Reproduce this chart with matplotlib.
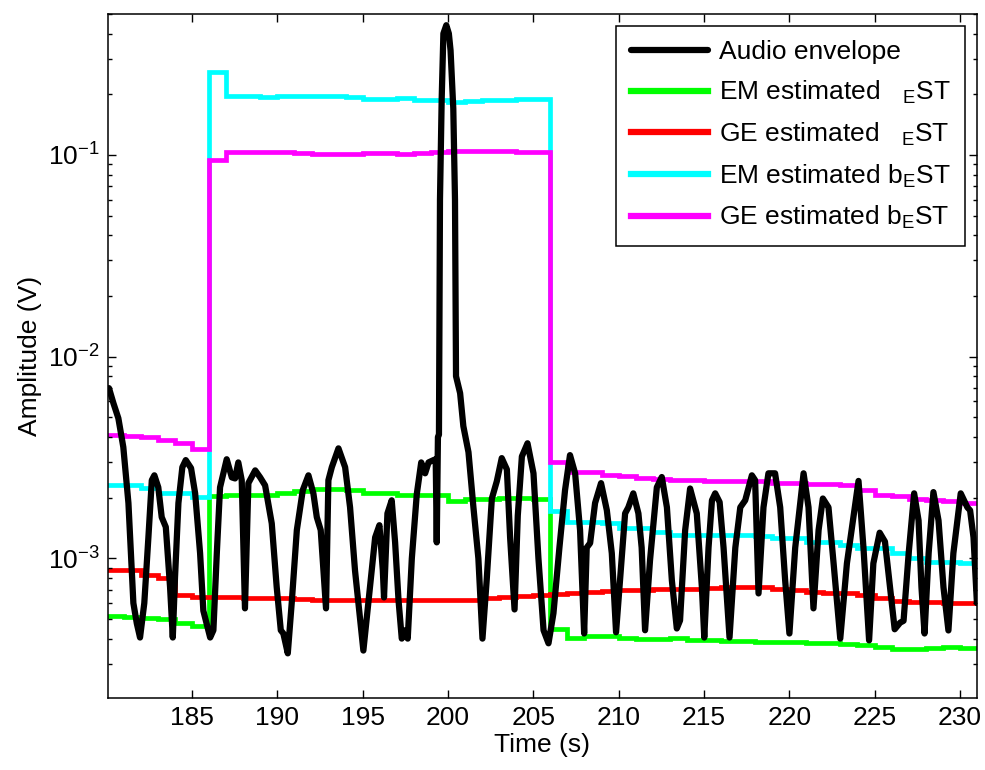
import matplotlib
matplotlib.use("Agg")
import matplotlib.pyplot as plt
import numpy as np

plt.rcParams['font.family'] = ['Liberation Sans', 'DejaVu Sans']
plt.rcParams['mathtext.fontset'] = 'custom'
plt.rcParams['mathtext.rm'] = 'Liberation Sans'
plt.rcParams['mathtext.it'] = 'Liberation Sans:italic'
plt.rcParams['mathtext.bf'] = 'Liberation Sans:bold'

# audio envelope (s, V)
env_t = [180.13, 180.39, 180.68, 180.97, 181.27, 181.56, 181.76, 181.95, 182.2, 182.44,
         182.64, 182.79, 183.02, 183.22, 183.46, 183.71, 183.87, 184.0, 184.2, 184.43,
         184.63, 184.94, 185.18, 185.47, 185.66, 186.06, 186.25, 186.45, 186.64, 187.03,
         187.33, 187.52, 187.71, 187.91, 188.1, 188.3, 188.7, 188.99, 189.28, 189.67,
         189.96, 190.2, 190.35, 190.61, 190.84, 191.14, 191.49, 191.82, 192.11, 192.31,
         192.54, 192.85, 192.99, 193.19, 193.58, 193.97, 194.26, 194.55, 195.04, 195.43,
         195.73, 195.98, 196.18, 196.25, 196.45, 196.7, 196.9, 197.1, 197.29, 197.49,
         197.64, 197.88, 198.17, 198.43, 198.66, 198.86, 199.15, 199.28, 199.34, 199.41,
         199.47, 199.53, 199.63, 199.73, 199.9, 200.05, 200.15, 200.31, 200.41, 200.47,
         200.71, 200.9, 201.2, 201.49, 201.78, 202.02, 202.27, 202.57, 202.86, 203.15,
         203.45, 203.64, 203.9, 204.09, 204.33, 204.66, 205.01, 205.3, 205.6, 205.89,
         206.18, 206.53, 206.86, 207.15, 207.45, 207.74, 207.98, 208.13, 208.33, 208.62,
         208.97, 209.31, 209.6, 209.85, 210.08, 210.38, 210.57, 210.86, 211.16, 211.35,
         211.55, 211.84, 212.24, 212.53, 212.83, 213.12, 213.41, 213.6, 213.9, 214.19,
         214.58, 214.88, 215.02, 215.27, 215.47, 215.66, 215.92, 216.15, 216.5, 216.84,
         217.13, 217.42, 217.81, 218.0, 218.2, 218.49, 218.78, 219.17, 219.47, 219.76,
         220.01, 220.35, 220.84, 221.13, 221.42, 221.72, 221.97, 222.3, 222.6, 222.99,
         223.38, 224.06, 224.35, 224.68, 224.93, 225.3, 225.61, 225.91, 226.18, 226.5,
         226.7, 227.0, 227.32, 227.58, 227.75, 227.93, 228.17, 228.45, 228.75, 229.04,
         229.33, 229.62, 230.05, 230.44, 230.6, 230.8, 231.0]
env_v = [6.98e-3, 5.88e-3, 4.95e-3, 3.56e-3, 1.88e-3, 0.60e-3, 0.476e-3, 0.405e-3, 0.60e-3, 1.27e-3,
         2.44e-3, 2.58e-3, 2.25e-3, 1.6e-3, 1.43e-3, 0.72e-3, 0.405e-3, 0.805e-3, 1.88e-3, 2.83e-3,
         3.07e-3, 2.80e-3, 2.10e-3, 1.06e-3, 0.55e-3, 0.405e-3, 0.44e-3, 1.06e-3, 2.25e-3, 3.10e-3,
         2.52e-3, 2.49e-3, 2.99e-3, 2.44e-3, 0.565e-3, 2.36e-3, 2.73e-3, 2.52e-3, 2.30e-3, 1.49e-3,
         0.72e-3, 0.44e-3, 0.424e-3, 0.338e-3, 0.60e-3, 1.38e-3, 2.18e-3, 2.58e-3, 2.10e-3, 1.6e-3,
         1.38e-3, 0.565e-3, 2.44e-3, 2.83e-3, 3.51e-3, 2.83e-3, 1.79e-3, 0.87e-3, 0.349e-3, 0.72e-3,
         1.27e-3, 1.46e-3, 0.87e-3, 0.64e-3, 1.67e-3, 1.94e-3, 1.2e-3, 0.62e-3, 0.40e-3, 0.44e-3,
         0.40e-3, 1.0e-3, 2.08e-3, 2.99e-3, 2.64e-3, 2.99e-3, 3.07e-3, 3.1e-3, 1.2e-3, 4.0e-3,
         4.1e-3, 0.06, 0.19, 0.40, 0.44, 0.40, 0.33, 0.17, 0.06, 8.0e-3,
         6.59e-3, 4.52e-3, 3.36e-3, 1.79e-3, 1.0e-3, 0.40e-3, 0.786e-3, 1.98e-3, 2.41e-3, 3.14e-3,
         2.76e-3, 1.27e-3, 0.558e-3, 1.63e-3, 3.2e-3, 3.72e-3, 2.64e-3, 1.0e-3, 0.44e-3, 0.379e-3,
         0.534e-3, 1.13e-3, 2.18e-3, 3.25e-3, 2.64e-3, 1.38e-3, 0.424e-3, 1.13e-3, 1.19e-3, 1.88e-3,
         2.36e-3, 1.73e-3, 1.06e-3, 0.43e-3, 0.778e-3, 1.67e-3, 1.79e-3, 2.10e-3, 1.67e-3, 1.13e-3,
         0.44e-3, 0.977e-3, 2.25e-3, 2.53e-3, 1.79e-3, 0.778e-3, 0.449e-3, 0.492e-3, 1.38e-3, 2.22e-3,
         1.67e-3, 0.718e-3, 0.405e-3, 1.13e-3, 1.94e-3, 2.10e-3, 1.9e-3, 1.13e-3, 0.405e-3, 1.13e-3,
         1.79e-3, 1.94e-3, 2.58e-3, 2.44e-3, 0.67e-3, 1.79e-3, 2.64e-3, 2.64e-3, 1.79e-3, 0.778e-3,
         0.424e-3, 1.13e-3, 2.64e-3, 1.79e-3, 0.565e-3, 1.38e-3, 1.98e-3, 1.79e-3, 0.944e-3, 0.40e-3,
         0.944e-3, 2.42e-3, 1.13e-3, 0.392e-3, 0.944e-3, 1.34e-3, 1.21e-3, 0.718e-3, 0.445e-3, 0.48e-3,
         0.49e-3, 1.06e-3, 2.10e-3, 1.54e-3, 0.718e-3, 0.424e-3, 1.06e-3, 2.13e-3, 1.54e-3, 0.718e-3,
         0.439e-3, 1.06e-3, 2.10e-3, 1.79e-3, 1.73e-3, 1.27e-3, 0.6e-3]

# 1 s estimation windows, 180 .. 231 s
win_edges = np.arange(180, 232)

em_est = [0.516e-3, 0.512e-3, 0.504e-3, 0.50e-3, 0.48e-3, 0.46e-3,
          2.03e-3, 2.05e-3, 2.07e-3, 2.07e-3, 2.12e-3, 2.15e-3, 2.2e-3, 2.2e-3, 2.17e-3, 2.12e-3,
          2.1e-3, 2.07e-3, 2.07e-3, 2.05e-3, 1.92e-3, 1.96e-3, 1.98e-3, 2.0e-3, 2.0e-3, 1.97e-3,
          0.448e-3, 0.405e-3, 0.41e-3, 0.41e-3, 0.405e-3, 0.40e-3, 0.40e-3, 0.405e-3, 0.395e-3,
          0.392e-3, 0.39e-3, 0.39e-3, 0.385e-3, 0.383e-3, 0.383e-3, 0.38e-3, 0.38e-3, 0.378e-3,
          0.37e-3, 0.362e-3, 0.355e-3, 0.354e-3, 0.36e-3, 0.365e-3, 0.36e-3]
ge_est = [0.875e-3, 0.875e-3, 0.83e-3, 0.80e-3, 0.655e-3, 0.645e-3,
          0.64e-3, 0.64e-3, 0.635e-3, 0.633e-3, 0.633e-3, 0.63e-3, 0.625e-3, 0.625e-3, 0.625e-3,
          0.625e-3, 0.62e-3, 0.62e-3, 0.622e-3, 0.625e-3, 0.62e-3, 0.625e-3, 0.633e-3, 0.64e-3,
          0.648e-3, 0.655e-3, 0.665e-3, 0.672e-3, 0.68e-3, 0.69e-3, 0.70e-3, 0.70e-3, 0.705e-3,
          0.705e-3, 0.705e-3, 0.715e-3, 0.718e-3, 0.718e-3, 0.718e-3, 0.705e-3, 0.70e-3, 0.68e-3,
          0.675e-3, 0.67e-3, 0.655e-3, 0.633e-3, 0.615e-3, 0.605e-3, 0.605e-3, 0.60e-3, 0.598e-3]
em_b_est = [2.30e-3, 2.30e-3, 2.23e-3, 2.10e-3, 2.10e-3, 2.01e-3,
            0.258, 0.195, 0.196, 0.194, 0.196, 0.197, 0.197, 0.195, 0.194, 0.190, 0.190, 0.191,
            0.187, 0.187, 0.183, 0.186, 0.188, 0.188, 0.190, 0.190,
            1.71e-3, 1.51e-3, 1.51e-3, 1.49e-3, 1.41e-3, 1.41e-3, 1.35e-3, 1.31e-3, 1.30e-3,
            1.30e-3, 1.30e-3, 1.30e-3, 1.29e-3, 1.26e-3, 1.26e-3, 1.21e-3, 1.20e-3, 1.17e-3,
            1.12e-3, 1.12e-3, 1.06e-3, 1.00e-3, 0.96e-3, 0.955e-3, 0.95e-3]
ge_b_est = [4.08e-3, 4.05e-3, 3.99e-3, 3.85e-3, 3.72e-3, 3.47e-3,
            0.094, 0.104, 0.1035, 0.103, 0.103, 0.102, 0.101, 0.101, 0.1015, 0.102, 0.102,
            0.1015, 0.1025, 0.103, 0.105, 0.105, 0.1045, 0.1045, 0.104, 0.104,
            2.99e-3, 2.67e-3, 2.67e-3, 2.58e-3, 2.56e-3, 2.49e-3, 2.47e-3, 2.45e-3, 2.44e-3,
            2.43e-3, 2.43e-3, 2.42e-3, 2.41e-3, 2.37e-3, 2.36e-3, 2.35e-3, 2.34e-3, 2.30e-3,
            2.18e-3, 2.05e-3, 2.04e-3, 1.96e-3, 1.94e-3, 1.93e-3, 1.88e-3]

labels = ['Audio envelope',
          r'EM estimated   ${}_{\mathrm{E}}$ST',
          r'GE estimated   ${}_{\mathrm{E}}$ST',
          r'EM estimated b$_{\mathrm{E}}$ST',
          r'GE estimated b$_{\mathrm{E}}$ST']

fig = plt.figure(figsize=(9.85, 7.7), dpi=100)
ax = fig.add_axes([0.1096, 0.0935, 0.8822, 0.8883])

ax.plot(env_t, env_v, color='black', lw=4.5, solid_joinstyle='round',
        solid_capstyle='round', label=labels[0])
for vals, col, lab in zip([em_est, ge_est, em_b_est, ge_b_est],
                          ['#00ff00', '#ff0000', '#00ffff', '#ff00ff'], labels[1:]):
    ax.stairs(vals, win_edges, baseline=None, color=col, lw=3.4, label=lab)

ax.set_yscale('log')
ax.set_xlim(180.07, 231.0)
ax.set_ylim(2.03e-4, 0.5)
ax.set_xticks(np.arange(185, 231, 5))
ax.tick_params(which='both', direction='in', top=True, right=True, labelsize=19, width=1)
ax.tick_params(which='major', length=6, pad=6)
ax.tick_params(which='minor', length=3)
for s in ax.spines.values():
    s.set_linewidth(1.1)

ax.set_xlabel('Time (s)', fontsize=19, labelpad=2)
ax.set_ylabel('Amplitude (V)', fontsize=19, labelpad=4)

leg = ax.legend(loc='upper right', fontsize=19, handlelength=2.95, handletextpad=0.4,
                labelspacing=0.55, borderpad=0.55, borderaxespad=0.45, fancybox=False,
                framealpha=1, edgecolor='black')
leg.get_frame().set_linewidth(1.1)
for h in leg.get_lines():
    h.set_linewidth(4.5)

fig.savefig('out.png', dpi=100)
